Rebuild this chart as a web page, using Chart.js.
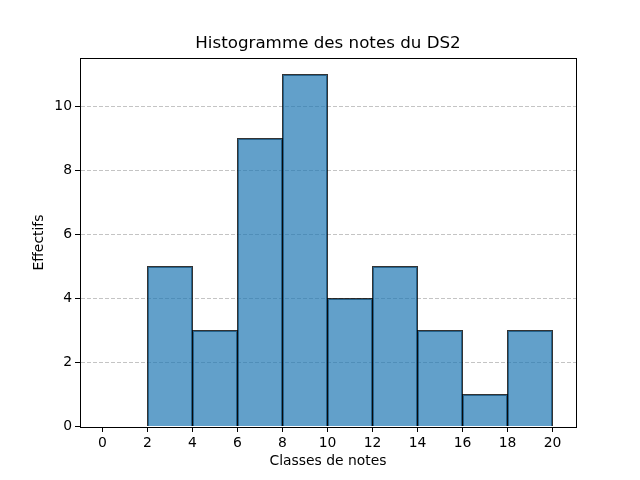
<!DOCTYPE html>
<html>
<head>
<meta charset="utf-8">
<script src="https://cdn.jsdelivr.net/npm/chart.js@4"></script>
<style>
  html, body { margin: 0; padding: 0; background: #fff; }
  #wrap { width: 640px; height: 480px; }
</style>
</head>
<body>
<div id="wrap"><canvas id="histo" width="640" height="480"></canvas></div>
<script>
const binEdges = [0, 2, 4, 6, 8, 10, 12, 14, 16, 18, 20];
const counts = [0, 5, 3, 9, 11, 4, 5, 3, 1, 3];
const xTicks = [0, 2, 4, 6, 8, 10, 12, 14, 16, 18, 20];
const yTicks = [0, 2, 4, 6, 8, 10];

const points = counts.map((c, i) => ({ x: (binEdges[i] + binEdges[i + 1]) / 2, y: c }));

// cadre complet autour de la zone de tracé (comme matplotlib)
const frame = {
  id: "frame",
  afterDraw(chart) {
    const a = chart.chartArea;
    const ctx = chart.ctx;
    ctx.save();
    ctx.strokeStyle = "#000";
    ctx.lineWidth = 1;
    ctx.strokeRect(Math.round(a.left) + 0.5, Math.round(a.top) + 0.5, Math.round(a.right - a.left), Math.round(a.bottom - a.top));
    ctx.restore();
  }
};

// bornes d'axes choisies pour que les bords des barres tombent sur des demi-pixels (traits nets)
const ctx = document.getElementById("histo").getContext("2d");
new Chart(ctx, {
  type: "bar",
  data: {
    datasets: [{
      data: points,
      backgroundColor: "rgba(31,119,180,0.7)",
      borderColor: "rgba(0,0,0,0.8)",
      borderWidth: 1,
      borderSkipped: "start",
      inflateAmount: 0.5,
      categoryPercentage: 1,
      barPercentage: 1
    }]
  },
  options: {
    responsive: false,
    animation: false,
    layout: { padding: { left: 16, right: 0, top: 0, bottom: 0 } },
    plugins: {
      legend: { display: false },
      tooltip: { enabled: false },
      title: {
        display: true,
        text: "Histogramme des notes du DS2",
        color: "#000",
        font: { family: "DejaVu Sans", size: 16.7, weight: "normal" },
        padding: { top: 34, bottom: 4 }
      }
    },
    scales: {
      x: {
        type: "linear",
        min: -1,
        max: 21.0444,
        offset: false,
        afterBuildTicks: s => { s.ticks = xTicks.map(v => ({ value: v })); },
        afterFit: s => { s.height = 53; },
        grid: { offset: false, drawOnChartArea: false, tickLength: 5, tickColor: "#000" },
        border: { color: "#000" },
        ticks: { color: "#000", padding: 3, maxRotation: 0, font: { family: "DejaVu Sans", size: 13.9 } },
        title: {
          display: true,
          text: "Classes de notes",
          color: "#000",
          font: { family: "DejaVu Sans", size: 13.9 },
          padding: { top: 0, bottom: 10 }
        }
      },
      y: {
        min: -0.015625,
        max: 11.515625,
        afterBuildTicks: s => { s.ticks = yTicks.map(v => ({ value: v })); },
        afterFit: s => { s.width = 64; },
        grid: {
          color: c => (c.tick && c.tick.value === 0 ? "rgba(0,0,0,0)" : "rgba(176,176,176,0.75)"),
          lineWidth: 1,
          tickLength: 5,
          tickColor: "#000",
          tickBorderDash: []
        },
        border: { color: "#000", dash: [4, 2] },
        ticks: { color: "#000", padding: 3, font: { family: "DejaVu Sans", size: 13.9 } },
        title: {
          display: true,
          text: "Effectifs",
          color: "#000",
          font: { family: "DejaVu Sans", size: 13.9 },
          padding: { top: 15, bottom: 0 }
        }
      },
      // axe vide à droite : réserve la marge pour centrer le titre sur le cadre
      yRight: {
        position: "right",
        min: 0,
        max: 11.55,
        afterFit: s => { s.width = 64; },
        grid: { drawOnChartArea: false, drawTicks: false },
        border: { display: false },
        ticks: { display: false }
      }
    }
  },
  plugins: [frame]
});
</script>
</body>
</html>
